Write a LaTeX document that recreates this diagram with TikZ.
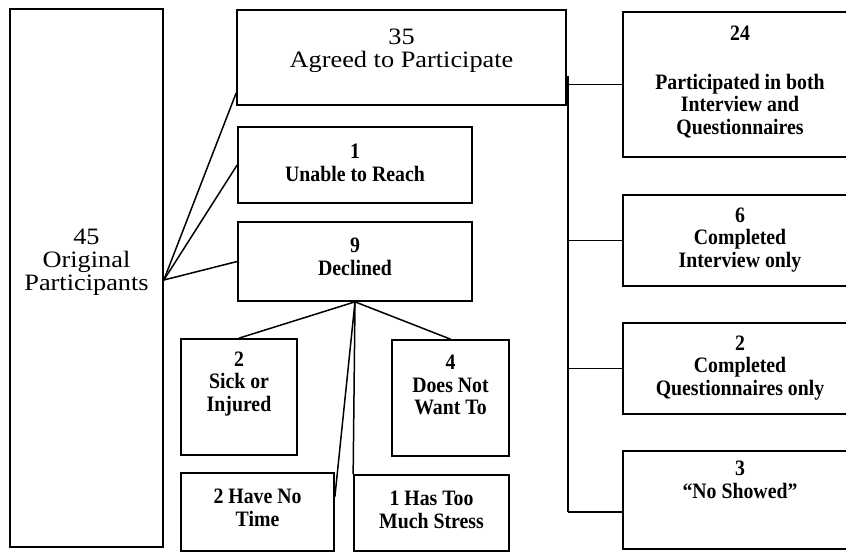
\documentclass[tikz,border=0pt]{standalone}
\usepackage{fontspec}
\setmainfont{Liberation Serif}
\newfontfamily\bigfam[FakeStretch=1.12]{Liberation Serif}
\newfontfamily\smallfam[FakeStretch=0.9]{Liberation Serif}
\begin{document}
\begin{tikzpicture}[x=1pt,y=-1pt,
  box/.style={draw, line width=1.7pt, inner sep=0pt, rectangle},
  link/.style={line width=1.5pt},
  bigtxt/.style={font=\bigfam\fontsize{23.5}{23}\selectfont, align=center, inner sep=0pt},
  smalltxt/.style={font=\smallfam\bfseries\fontsize{22}{22.5}\selectfont, align=center, inner sep=0pt}]
\fill[white] (0,0) rectangle (846,553);
\useasboundingbox (0,0) rectangle (846,553);
\clip (0,0) rectangle (846,553);
% boxes
\node[box, minimum width=153pt, minimum height=538pt] (orig) at (86.5,278) {};
\node[box, minimum width=329pt, minimum height=95pt] (agreed) at (401.5,57.5) {};
\node[box, minimum width=234pt, minimum height=76pt] (unable) at (355,165) {};
\node[box, minimum width=234pt, minimum height=79pt] (declined) at (355,261.5) {};
\node[box, minimum width=116pt, minimum height=116pt] (sick) at (239,397) {};
\node[box, minimum width=117pt, minimum height=116pt] (dnw) at (450.5,398) {};
\node[box, minimum width=153pt, minimum height=78pt] (time) at (257.5,512) {};
\node[box, minimum width=155pt, minimum height=76pt] (stress) at (431.5,513) {};
\node[box, minimum width=257pt, minimum height=145pt] (p24) at (751.5,84.5) {};
\node[box, minimum width=257pt, minimum height=91pt] (c6) at (751.5,240.5) {};
\node[box, minimum width=257pt, minimum height=91pt] (c2) at (751.5,368.5) {};
\node[box, minimum width=257pt, minimum height=98pt] (ns) at (751.5,500) {};
% texts
\node[bigtxt] (origT) at (86.5,262) {45\\Original\\Participants};
\node[bigtxt] (agreedT) at (401.5,51) {35\\Agreed to Participate};
\node[smalltxt] (unableT) at (355,163) {1\\Unable to Reach};
\node[smalltxt] (declT) at (355,257) {9\\Declined};
\node[smalltxt] (sickT) at (239,384) {2\\Sick or\\Injured};
\node[smalltxt] (dnwT) at (450.5,385) {4\\Does Not\\Want To};
\node[smalltxt] (timeT) at (257.5,508) {2 Have No\\Time};
\node[smalltxt] (stressT) at (431.5,510) {1 Has Too\\Much Stress};
\node[smalltxt] (p24T) at (740,82) {24\\[26pt]Participated in both\\Interview and\\Questionnaires};
\node[smalltxt] (c6T) at (740,240) {6\\Completed\\Interview only};
\node[smalltxt] (c2T) at (740,368) {2\\Completed\\Questionnaires only};
\node[smalltxt] (nsT) at (740,480) {3\\“No Showed”};
% left fan
\coordinate (jn) at (orig.east |- 0,280);
\coordinate (aIn) at (agreed.west |- 0,93);
\draw[link] (jn) -- (aIn);
\draw[link] (jn) -- (unable.west);
\draw[link] (jn) -- (declined.west);
% declined fan
\coordinate (tIn) at (time.east |- 0,497);
\draw[link] (declined.south) -- (sick.north);
\draw[link] (declined.south) -- (dnw.north);
\draw[link] (declined.south) -- (tIn);
\draw[link] (declined.south) -- (stress.north west);
% right trunk
\coordinate (t0) at (568,76);
\coordinate (t4) at (568,512);
\coordinate (nsIn) at (ns.west |- t4);
\draw[link] (t0) -- (t4);
\draw[link] (t0 |- p24.west) -- (p24.west);
\draw[link] (t0 |- c6.west) -- (c6.west);
\draw[link] (t0 |- c2.west) -- (c2.west);
\draw[link] (t4) -- (nsIn);
\end{tikzpicture}
\end{document}
